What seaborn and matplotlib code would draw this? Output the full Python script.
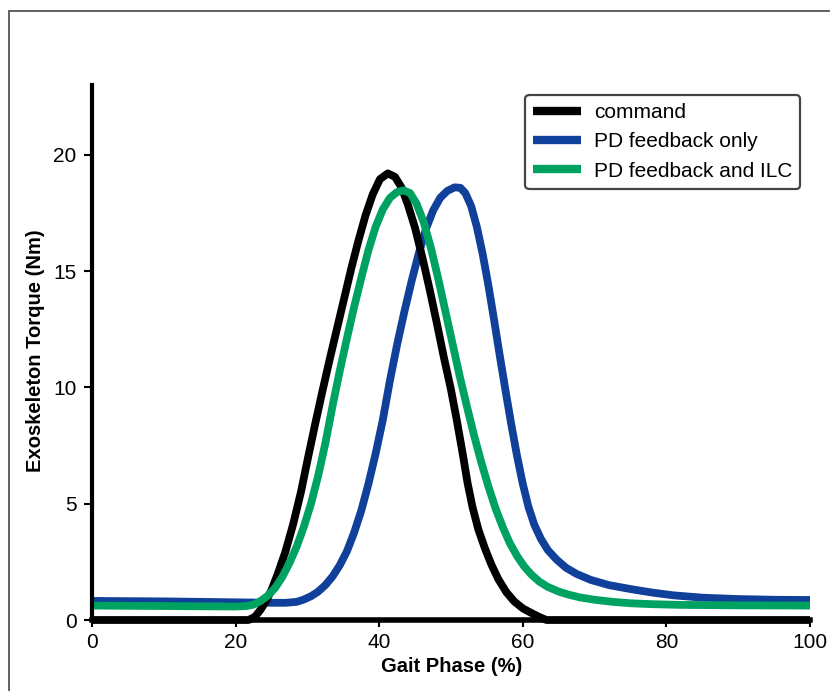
import matplotlib
matplotlib.use("Agg")
import matplotlib.pyplot as plt
from matplotlib.patches import Rectangle
from matplotlib.lines import Line2D
import numpy as np
import pandas as pd
import seaborn as sns

# ---- data ----
labels = ["command", "PD feedback only", "PD feedback and ILC"]
colors = ["#000000", "#10409a", "#00a262"]

cmd_x = [0, 21.8, 22.7, 23.5, 24.3, 25.0, 25.9, 26.9, 28.0, 29.1, 30.1, 31.1, 32.1, 33.1, 34.1,
         35.1, 36.1, 37.1, 38.1, 39.1, 40.1, 41.2, 42.2, 43.1, 44.0, 45.0, 46.0, 47.0, 48.0, 49.0,
         50.0, 50.8, 51.6, 52.3, 53.0, 53.8, 54.7, 55.6, 56.6, 57.7, 58.8, 60.0, 61.2, 62.3, 63.3, 100]
cmd_y = [0, 0, 0.14, 0.45, 0.85, 1.29, 2.01, 2.9, 4.1, 5.5, 7.0, 8.45, 9.85, 11.2, 12.5,
         13.8, 15.1, 16.3, 17.4, 18.3, 18.95, 19.2, 19.05, 18.6, 17.85, 16.85, 15.6, 14.25, 12.8, 11.3,
         9.9, 8.6, 7.2, 5.9, 4.85, 3.9, 3.1, 2.4, 1.75, 1.2, 0.8, 0.5, 0.3, 0.13, 0, 0]

pd_x = [0, 10, 20, 25, 27, 28.5, 29.5, 30.5, 31.5, 32.5, 33.5, 34.5, 35.5, 36.5, 37.5, 38.5, 39.5,
        40.5, 41.5, 42.5, 43.5, 44.5, 45.5, 46.5, 47.5, 48.5, 49.5, 50.5, 51.3, 52.0, 52.8, 53.6,
        54.4, 55.2, 56.0, 56.8, 57.6, 58.4, 59.2, 60.0, 60.8, 61.6, 62.5, 63.5, 64.7, 66.0, 67.5,
        69.5, 72, 75, 78, 81, 85, 90, 95, 100]
pd_y = [0.82, 0.8, 0.76, 0.74, 0.74, 0.78, 0.88, 1.02, 1.22, 1.5, 1.87, 2.35, 2.95, 3.75, 4.7, 5.85, 7.15,
        8.6, 10.3, 11.85, 13.25, 14.55, 15.75, 16.8, 17.6, 18.15, 18.45, 18.6, 18.58, 18.35, 17.8, 16.9,
        15.75, 14.4, 12.9, 11.35, 9.85, 8.4, 7.05, 5.85, 4.85, 4.1, 3.5, 3.0, 2.6, 2.25, 1.98,
        1.72, 1.5, 1.33, 1.18, 1.06, 0.96, 0.9, 0.87, 0.86]

ilc_x = [0, 10, 20, 21.5, 22.5, 23.5, 24.5, 25.5, 26.5, 27.5, 28.5, 29.5, 30.5, 31.5, 32.5, 33.5,
         34.5, 35.5, 36.5, 37.5, 38.5, 39.5, 40.5, 41.5, 42.5, 43.4, 44.3, 45.2, 46.2, 47.2, 48.2,
         49.2, 50.2, 51.2, 52.2, 53.2, 54.2, 55.2, 56.2, 57.2, 58.2, 59.2, 60.2, 61.2, 62.3, 63.5,
         65.0, 66.5, 68.0, 70, 72.5, 75, 78, 82, 90, 100]
ilc_y = [0.62, 0.6, 0.58, 0.6, 0.66, 0.82, 1.05, 1.38, 1.85, 2.45, 3.15, 4.0, 5.0, 6.2, 7.6, 9.2,
         10.7, 12.1, 13.45, 14.7, 15.9, 16.9, 17.65, 18.15, 18.4, 18.47, 18.35, 17.9, 17.1, 16.0, 14.7,
         13.3, 11.9, 10.5, 9.2, 7.95, 6.8, 5.75, 4.8, 4.0, 3.3, 2.75, 2.3, 1.95, 1.65, 1.42,
         1.22, 1.08, 0.97, 0.87, 0.78, 0.72, 0.68, 0.65, 0.63, 0.62]

x_ticks = [0, 20, 40, 60, 80, 100]
y_ticks = [0, 5, 10, 15, 20]

df = pd.concat([
    pd.DataFrame({"phase": cmd_x, "torque": cmd_y, "series": labels[0]}),
    pd.DataFrame({"phase": pd_x, "torque": pd_y, "series": labels[1]}),
    pd.DataFrame({"phase": ilc_x, "torque": ilc_y, "series": labels[2]}),
], ignore_index=True)

sns.set_theme(style="white")
plt.rcParams["font.family"] = ["Liberation Sans", "DejaVu Sans"]
plt.rcParams["text.color"] = "black"
plt.rcParams["axes.labelcolor"] = "black"
plt.rcParams["xtick.color"] = "black"
plt.rcParams["ytick.color"] = "black"

fig = plt.figure(figsize=(8.3, 6.91), dpi=100)
ax = fig.add_axes([92 / 830, 1 - 620 / 691, 718 / 830, 535 / 691])

sns.lineplot(data=df, x="phase", y="torque", hue="series", hue_order=labels,
             palette=colors, linewidth=5.6, sort=False, estimator=None,
             ax=ax, legend=False)

zorders = {labels[0]: 2.6, labels[1]: 2.4, labels[2]: 2.8}
for line, lab in zip(ax.lines, labels):
    line.set_zorder(zorders[lab])
    line.set_solid_joinstyle("round")
    line.set_solid_capstyle("butt")
    line.set_clip_on(False)

ax.set_xlim(0, 100)
ax.set_ylim(0, 23)
ax.set_xticks(x_ticks)
ax.set_yticks(y_ticks)

for s in ["top", "right"]:
    ax.spines[s].set_visible(False)
ax.spines["left"].set_linewidth(3.0)
ax.spines["bottom"].set_linewidth(4.0)
ax.spines["left"].set_color("black")
ax.spines["bottom"].set_color("black")
ax.spines["left"].set_zorder(3)
ax.spines["bottom"].set_zorder(3)

ax.tick_params(axis="x", bottom=True, direction="out", length=5, width=1.5,
               labelsize=15, pad=4, colors="black")
ax.tick_params(axis="y", left=True, direction="out", length=6, width=1.5,
               labelsize=15, pad=5, colors="black")

ax.set_xlabel("Gait Phase (%)", fontsize=14.5, fontweight="bold", color="black")
ax.set_ylabel("Exoskeleton Torque (Nm)", fontsize=14.5, fontweight="bold", color="black")
ax.xaxis.set_label_coords(0.501, -0.07)
ax.yaxis.set_label_coords(-0.066, 0.503)

handles = [Line2D([0], [0], color=c, lw=6, solid_capstyle="butt") for c in colors]
leg = ax.legend(handles, labels, loc="upper right",
                bbox_to_anchor=(800 / 830, 1 - 95 / 691), bbox_transform=fig.transFigure,
                borderaxespad=0, frameon=True, fancybox=True, fontsize=15,
                handlelength=2.3, handletextpad=0.6, labelspacing=0.5, borderpad=0.38,
                labelcolor="black")
leg.get_frame().set_edgecolor("#444444")
leg.get_frame().set_linewidth(1.6)
leg.get_frame().set_facecolor("white")
leg.get_frame().set_alpha(1)

fig.add_artist(Rectangle((9 / 830, -0.5), 2, 1 - 11 / 691 + 0.5, transform=fig.transFigure,
                         fill=False, edgecolor="#555555", linewidth=1.3))

fig.savefig("out.png", dpi=100)
